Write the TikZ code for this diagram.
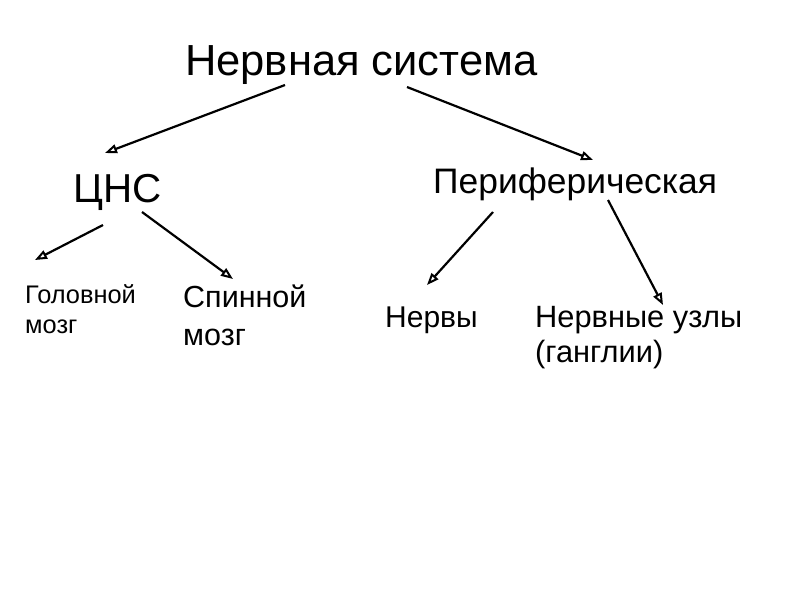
\documentclass[tikz,border=0pt]{standalone}
\usepackage{fontspec}
\setmainfont{Liberation Sans}
\usetikzlibrary{arrows.meta}

\begin{document}
\begin{tikzpicture}[x=1pt,y=-1pt,
    arr/.style={line width=2.2pt,-{Triangle[open,length=12pt,width=9pt,line width=2pt]}},
    lbl/.style={inner sep=0pt,anchor=base west}]
      \useasboundingbox (0,0) rectangle (800,600) ;
      % levels of the tree
      \node[lbl,font=\fontsize{43.5}{52}\selectfont] (NS) at (185,75) {Нервная система} ;
      \node[lbl,font=\fontsize{40.4}{48}\selectfont] (CNS) at (73,202) {ЦНС} ;
      \node[lbl,font=\fontsize{35.4}{44}\selectfont] (PNS) at (433,193) {Периферическая} ;
      \node[lbl,font=\fontsize{25.4}{30}\selectfont,align=left] (GM) at (25,333) {Головной\\мозг} ;
      \node[lbl,font=\fontsize{30.5}{38}\selectfont,align=left] (SM) at (183,345) {Спинной\\мозг} ;
      \node[lbl,font=\fontsize{30}{35}\selectfont] (NV) at (385,327) {Нервы} ;
      \node[lbl,font=\fontsize{30.8}{35}\selectfont,align=left] (NU) at (535,362) {Нервные узлы\\(ганглии)} ;
      % arrows
      \draw[arr] ([shift={(100,10)}]NS.base west) -- ([shift={(32,-49)}]CNS.base west) ;
      \draw[arr] ([shift={(222,12)}]NS.base west) -- ([shift={(160,-33)}]PNS.base west) ;
      \draw[arr] ([shift={(30,23)}]CNS.base west) -- ([shift={(10,-73)}]GM.base west) ;
      \draw[arr] ([shift={(69,10)}]CNS.base west) -- ([shift={(50,-66)}]SM.base west) ;
      \draw[arr] ([shift={(60,19)}]PNS.base west) -- ([shift={(42,-42)}]NV.base west) ;
      \draw[arr] ([shift={(175,7)}]PNS.base west) -- ([shift={(128,-57)}]NU.base west) ;
    \end{tikzpicture}
\end{document}
